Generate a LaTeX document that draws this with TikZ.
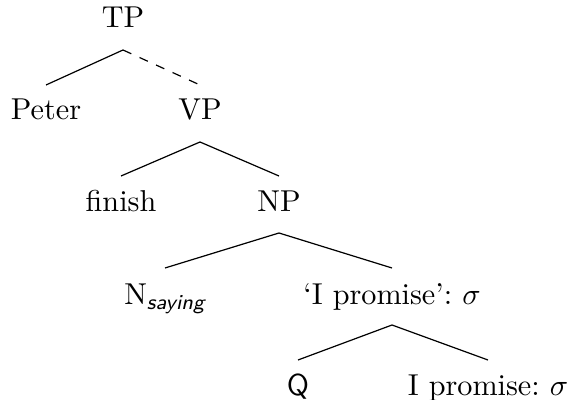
\documentclass[tikz,border=0pt]{standalone}
\usetikzlibrary{calc}
\frenchspacing
\begin{document}
\begin{tikzpicture}[x=0.331pt,y=-0.331pt,
  lbl/.style={anchor=base,inner sep=0pt,font=\fontsize{10}{12}\selectfont},
  edge/.style={line width=0.4pt}]
\useasboundingbox (0,0) rectangle (569,400);
\node[lbl] (tp) at (123,28) {TP};
\node[lbl] (peter) at (46,120) {Peter};
\node[lbl] (vp) at (200,120) {VP};
\node[lbl] (finish) at (121,212) {finish};
\node[lbl] (np) at (279,212) {NP};
\node[lbl] (nsay) at (165,305) {N$_{\mbox{\scriptsize\sffamily\itshape saying}}$};
\node[lbl] (ipq) at (392,305) {`I promise':\ $\sigma$};
\node[lbl] (q) at (298,396) {\textsf{Q}};
\node[lbl] (ip) at (488,396) {I promise:\ $\sigma$};
\draw[edge] ($(tp.base)+(0,22)$) -- ($(peter.base)+(0,-35)$);
\draw[edge,dashed] ($(tp.base)+(0,22)$) -- ($(vp.base)+(0,-35)$);
\draw[edge] ($(vp.base)+(0,22)$) -- ($(finish.base)+(0,-36)$);
\draw[edge] ($(vp.base)+(0,22)$) -- ($(np.base)+(0,-36)$);
\draw[edge] ($(np.base)+(0,21)$) -- ($(nsay.base)+(0,-37)$);
\draw[edge] ($(np.base)+(0,21)$) -- ($(ipq.base)+(0,-37)$);
\draw[edge] ($(ipq.base)+(0,20)$) -- ($(q.base)+(0,-36)$);
\draw[edge] ($(ipq.base)+(0,20)$) -- ($(ip.base)+(0,-36)$);
\end{tikzpicture}
\end{document}
